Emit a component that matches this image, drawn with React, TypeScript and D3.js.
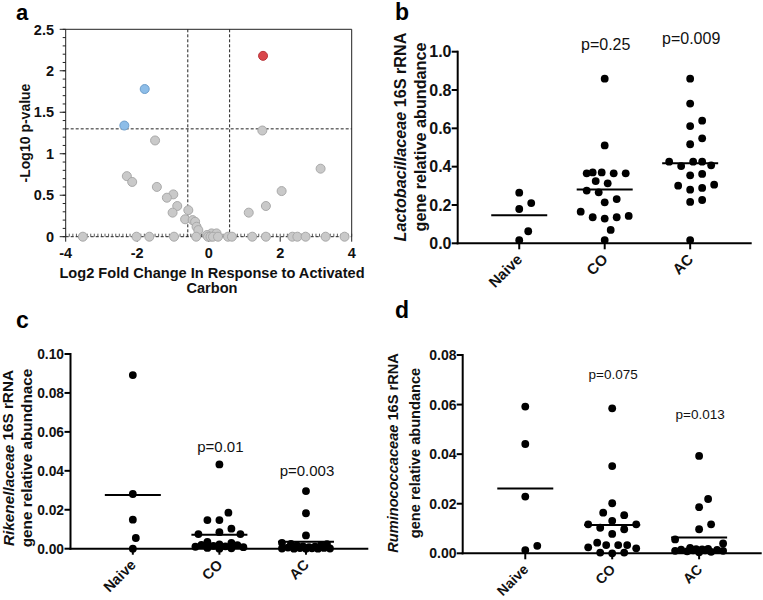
import React from 'react';
import * as d3 from 'd3';

// ---------- Panel a: volcano data ----------
const volcanoLog2FC = [
  1.52, -1.79, -2.36,
  1.50, -1.50, 3.13, -2.29, -2.14, -1.45, 2.04, -0.99, -1.17, -0.88, 1.60, -1.01, 1.12,
  -0.57, -0.66, -0.45, -0.38, -0.34, -0.29, 0.08, 0.22, -0.05,
  -3.52, -2.02, -1.66, -0.97, -0.35, -0.02, 0.05, 0.12, 0.26, 0.54, 0.65, 1.22, 1.60, 2.34, 2.48, 2.71, 3.27, 3.80,
];
const volcanoNegLog10P = [
  2.18, 1.78, 1.34,
  1.28, 1.16, 0.82, 0.73, 0.66, 0.60, 0.55, 0.51, 0.47, 0.37, 0.37, 0.29, 0.29,
  0.32, 0.21, 0.20, 0.18, 0.12, 0.08, 0.04, 0.04, 0.02,
  0, 0, 0, 0, 0, 0, 0, 0, 0, 0, 0, 0, 0, 0, 0, 0, 0, 0,
];
const fcThreshold = 0.585;
const pThreshold = 1.3;
const volcanoXTicks = [-4, -2, 0, 2, 4];
const volcanoYTicks = [0, 0.5, 1, 1.5, 2, 2.5];

// ---------- Dot plots ----------
const groups = ['Naive', 'CO', 'AC'];

const lactoNaive = [0.264, 0.21, 0.179, 0.063, 0.016];
const lactoCO = [0.859, 0.511, 0.37, 0.365, 0.365, 0.37, 0.365, 0.313, 0.325, 0.266, 0.275, 0.214, 0.231, 0.143, 0.136, 0.129, 0.136, 0.165, 0.07, 0.017];
const lactoAC = [0.859, 0.729, 0.64, 0.612, 0.548, 0.517, 0.426, 0.426, 0.426, 0.407, 0.403, 0.362, 0.355, 0.301, 0.28, 0.289, 0.306, 0.226, 0.216, 0.017];
const lactoTicks = [0, 0.2, 0.4, 0.6, 0.8, 1.0];
const lactoPLabels = ['', 'p=0.25', 'p=0.009'];
const lactoPLevels = [0, 1.009, 1.038];

const rikenNaive = [0.0892, 0.0281, 0.0149, 0.0055, 0.0];
const rikenCO = [0.0433, 0.0185, 0.0147, 0.0147, 0.0103, 0.0075, 0.0075, 0.0085, 0.0030, 0.0035, 0.0022, 0.0018, 0.0012, 0.0008, 0.0002, 0.0000, 0.0004, 0.0010, 0.0015, 0.0020];
const rikenAC = [0.0296, 0.0182, 0.0068, 0.0030, 0.0025, 0.0018, 0.0012, 0.0008, 0.0004, 0.0002, 0.0001, 0.0, 0.0, 0.0, 0.0001, 0.0003, 0.0006, 0.0010, 0.0016, 0.0024];
const rikenTicks = [0, 0.02, 0.04, 0.06, 0.08, 0.10];
const rikenPLabels = ['', 'p=0.01', 'p=0.003'];
const rikenPLevels = [0, 0.0497, 0.0373];

const rumNaive = [0.0592, 0.0441, 0.0229, 0.003, 0.0013];
const rumCO = [0.0585, 0.0352, 0.0202, 0.0164, 0.0154, 0.0131, 0.0117, 0.0097, 0.0103, 0.0117, 0.0078, 0.0043, 0.0033, 0.0024, 0.0003, 0.0, 0.0003, 0.002, 0.0033, 0.0033];
const rumAC = [0.0393, 0.0219, 0.0186, 0.0117, 0.0097, 0.0056, 0.004, 0.0022, 0.0018, 0.0016, 0.0014, 0.0012, 0.001, 0.0006, 0.0004, 0.0008, 0.001, 0.0012, 0.0015, 0.0017];
const rumTicks = [0, 0.02, 0.04, 0.06, 0.08];
const rumPLabels = ['', 'p=0.075', 'p=0.013'];
const rumPLevels = [0, 0.0703, 0.0542];

const FONT = "'Liberation Sans', Arial, Helvetica, sans-serif";

function swarm(vals: number[], y: (v: number) => number, D = 11, W = 25, step = 3) {
  const idx = vals.map((_, i) => i).sort((a, b) => vals[a] - vals[b]);
  const cands: number[] = [0];
  for (let k = step; k <= W; k += step) cands.push(k, -k);
  const placed: { x: number; y: number }[] = [];
  const out = new Array(vals.length).fill(0);
  for (const i of idx) {
    const py = y(vals[i]);
    let chosen: number | null = null;
    let best = -1;
    let bestC = 0;
    for (const c of cands) {
      let minD = Infinity;
      for (const p of placed) {
        const dd = Math.hypot(p.x - c, p.y - py);
        if (dd < minD) minD = dd;
      }
      if (minD >= D) { chosen = c; break; }
      if (minD > best + 1e-9) { best = minD; bestC = c; }
    }
    const c = chosen === null ? bestC : chosen;
    out[i] = c;
    placed.push({ x: c, y: py });
  }
  return out;
}

function Volcano() {
  const x = d3.scaleLinear().domain([-4, 4]).range([65.7, 351.7]);
  const y = d3.scaleLinear().domain([0, 2.5]).range([236.7, 29.3]);
  const minorY = d3.range(0, 2.5001, 0.1);
  const minorX = d3.range(-4, 4.0001, 0.1);
  const pts = volcanoLog2FC.map((fc, i) => ({ fc, p: volcanoNegLog10P[i] }));
  const isSig = (d: { fc: number; p: number }) => d.p > pThreshold && Math.abs(d.fc) > fcThreshold;
  const color = (d: { fc: number; p: number }) =>
    isSig(d) ? (d.fc > 0 ? ['#d9464b', '#b9363b'] : ['#8dbde8', '#6f9fcc']) : ['#c9c9c9', '#a9a9a9'];
  const order = pts.map((d, i) => i).sort((a, b) => (isSig(pts[a]) ? 1 : 0) - (isSig(pts[b]) ? 1 : 0));
  return (
    <g fontFamily={FONT}>
      <text x={16} y={19.5} fontSize={22} fontWeight="bold">a</text>
      {/* frame */}
      <line x1={x(-4)} x2={x(4)} y1={y(2.5)} y2={y(2.5)} stroke="#222" strokeWidth={1} />
      <line x1={x(4)} x2={x(4)} y1={y(2.5)} y2={y(0)} stroke="#222" strokeWidth={1} />
      {/* threshold lines */}
      {[-fcThreshold, fcThreshold].map((v) => (
        <line key={v} x1={x(v)} x2={x(v)} y1={y(2.5)} y2={y(0)} stroke="#222" strokeWidth={1} strokeDasharray="3,2" />
      ))}
      <line x1={x(-4)} x2={x(4)} y1={y(pThreshold)} y2={y(pThreshold)} stroke="#222" strokeWidth={1} strokeDasharray="3,2" />
      {/* y axis */}
      <line x1={x(-4)} x2={x(-4)} y1={y(0)} y2={y(2.5)} stroke="#222" strokeWidth={1} />
      {minorY.map((v, i) => (
        <line key={'my' + i} x1={x(-4) - 3} x2={x(-4)} y1={y(v)} y2={y(v)} stroke="#222" strokeWidth={1} />
      ))}
      {volcanoYTicks.map((v) => (
        <g key={'yt' + v}>
          <line x1={x(-4) - 6} x2={x(-4)} y1={y(v)} y2={y(v)} stroke="#222" strokeWidth={1} />
          <text x={54} y={y(v)} dy="0.36em" textAnchor="end" fontSize={14.5} fontWeight="bold" fill="#111">{String(v)}</text>
        </g>
      ))}
      {/* x axis */}
      <line x1={x(-4)} x2={x(4)} y1={y(0)} y2={y(0)} stroke="#222" strokeWidth={1} strokeDasharray="3,2" />
      {minorX.map((v, i) => (
        <line key={'mx' + i} x1={x(v)} x2={x(v)} y1={y(0) - 3} y2={y(0)} stroke="#333" strokeWidth={0.8} />
      ))}
      {volcanoXTicks.map((v) => (
        <g key={'xt' + v}>
          <line x1={x(v)} x2={x(v)} y1={y(0)} y2={y(0) + 5} stroke="#222" strokeWidth={1} />
          <text x={x(v)} y={257.5} textAnchor="middle" fontSize={14.5} fontWeight="bold" fill="#111">{String(v)}</text>
        </g>
      ))}
      {/* points */}
      {order.map((i) => {
        const d = pts[i];
        const [f, s] = color(d);
        return <circle key={'p' + i} cx={x(d.fc)} cy={y(d.p)} r={4.5} fill={f} stroke={s} strokeWidth={1} />;
      })}
      {/* titles */}
      <text transform={`translate(25,133) rotate(-90)`} textAnchor="middle" dominantBaseline="central" fontSize={14} fontWeight="bold" fill="#111">-Log10 p-value</text>
      <text x={212} y={277.5} textAnchor="middle" fontSize={14.6} fontWeight="bold" fill="#111">Log2 Fold Change In Response to Activated</text>
      <text x={212} y={292.5} textAnchor="middle" fontSize={14.6} fontWeight="bold" fill="#111">Carbon</text>
    </g>
  );
}

type DotProps = {
  letter: string; letterX: number; letterY: number;
  x0: number; x1: number; yBottom: number; yTop: number; yMax: number;
  ticks: number[]; fmt: string; tickLabelX: number;
  data: number[][]; pLabels: string[]; pLevels: number[];
  italic: string; rest: string; line2: string;
  t1x: number; t2x: number; tcy: number;
  tickFs: number; pFs: number; titleFs: number; catFs: number;
};

function DotPanel(p: DotProps) {
  const y = d3.scaleLinear().domain([0, p.yMax]).range([p.yBottom, p.yTop]);
  const x = d3.scalePoint<string>().domain(groups).range([p.x0, p.x1]).padding(0.72);
  const f = d3.format(p.fmt);
  return (
    <g fontFamily={FONT}>
      <text x={p.letterX} y={p.letterY} fontSize={23} fontWeight="bold">{p.letter}</text>
      {/* y axis */}
      <line x1={p.x0} x2={p.x0} y1={p.yBottom + 1} y2={p.yTop - 1} stroke="#000" strokeWidth={2} />
      {p.ticks.map((v) => (
        <g key={'t' + v}>
          <line x1={p.x0 - 6} x2={p.x0} y1={y(v)} y2={y(v)} stroke="#000" strokeWidth={2} />
          <text x={p.tickLabelX} y={y(v)} dy="0.36em" textAnchor="end" fontSize={p.tickFs} fontWeight="bold" fill="#111">{f(v)}</text>
        </g>
      ))}
      {/* x axis */}
      <line x1={p.x0 - 1} x2={p.x1} y1={p.yBottom} y2={p.yBottom} stroke="#000" strokeWidth={2} />
      {groups.map((g) => (
        <g key={'g' + g}>
          <line x1={x(g)} x2={x(g)} y1={p.yBottom} y2={p.yBottom + 6} stroke="#000" strokeWidth={2} />
          <text transform={`translate(${(x(g) as number) + 4},${p.yBottom + 17}) rotate(-45)`} textAnchor="end" fontSize={p.catFs} fontWeight="bold" fill="#111">{g}</text>
        </g>
      ))}
      {/* points & means */}
      {p.data.map((vals, gi) => {
        const cx = x(groups[gi]) as number;
        const offs = swarm(vals, y);
        const m = d3.mean(vals) as number;
        return (
          <g key={'d' + gi}>
            {vals.map((v, i) => (
              <circle key={i} cx={cx + offs[i]} cy={y(v)} r={3.9} fill="#000" />
            ))}
            <line x1={cx - 28} x2={cx + 28} y1={y(m)} y2={y(m)} stroke="#000" strokeWidth={2} />
          </g>
        );
      })}
      {/* p labels */}
      {p.pLabels.map((t, gi) => t ? (
        <text key={'pl' + gi} x={(x(groups[gi]) as number) + 1} y={y(p.pLevels[gi])} textAnchor="middle" fontSize={p.pFs} fill="#111">{t}</text>
      ) : null)}
      {/* y title */}
      <text transform={`translate(${p.t1x},${p.tcy}) rotate(-90)`} textAnchor="middle" dominantBaseline="central" fontSize={p.titleFs} fontWeight="bold" fill="#111">
        <tspan fontStyle="italic">{p.italic}</tspan>{p.rest}
      </text>
      <text transform={`translate(${p.t2x},${p.tcy}) rotate(-90)`} textAnchor="middle" dominantBaseline="central" fontSize={p.titleFs} fontWeight="bold" fill="#111">{p.line2}</text>
    </g>
  );
}

export default function App() {
  return (
    <svg width={763} height={600} viewBox="0 0 763 600" style={{ position: 'absolute', left: 0, top: 0, background: '#fff' }}>
      <rect width={763} height={600} fill="#fff" />
      <Volcano />
      <DotPanel
        letter="b" letterX={395} letterY={20}
        x0={457.7} x1={751.7} yBottom={243.3} yTop={51.7} yMax={1.0}
        ticks={lactoTicks} fmt=".1f" tickLabelX={451.5}
        data={[lactoNaive, lactoCO, lactoAC]} pLabels={lactoPLabels} pLevels={lactoPLevels}
        italic="Lactobacillaceae" rest=" 16S rRNA" line2="gene relative abundance"
        t1x={400} t2x={420} tcy={137}
        tickFs={16} pFs={16} titleFs={16.2} catFs={15}
      />
      <DotPanel
        letter="c" letterX={16} letterY={328}
        x0={70.5} x1={368.3} yBottom={548.7} yTop={354} yMax={0.10}
        ticks={rikenTicks} fmt=".2f" tickLabelX={64}
        data={[rikenNaive, rikenCO, rikenAC]} pLabels={rikenPLabels} pLevels={rikenPLevels}
        italic="Rikenellaceae" rest=" 16S rRNA" line2="gene relative abundnace"
        t1x={7.5} t2x={26} tcy={458}
        tickFs={13.8} pFs={15} titleFs={15.3} catFs={14.5}
      />
      <DotPanel
        letter="d" letterX={395} letterY={318}
        x0={462.7} x1={761.7} yBottom={553.3} yTop={355} yMax={0.08}
        ticks={rumTicks} fmt=".2f" tickLabelX={456.5}
        data={[rumNaive, rumCO, rumAC]} pLabels={rumPLabels} pLevels={rumPLevels}
        italic="Ruminococcaceae" rest=" 16S rRNA" line2="gene relative abundance"
        t1x={393} t2x={414.5} tcy={453}
        tickFs={14} pFs={13.5} titleFs={14.6} catFs={14}
      />
    </svg>
  );
}
